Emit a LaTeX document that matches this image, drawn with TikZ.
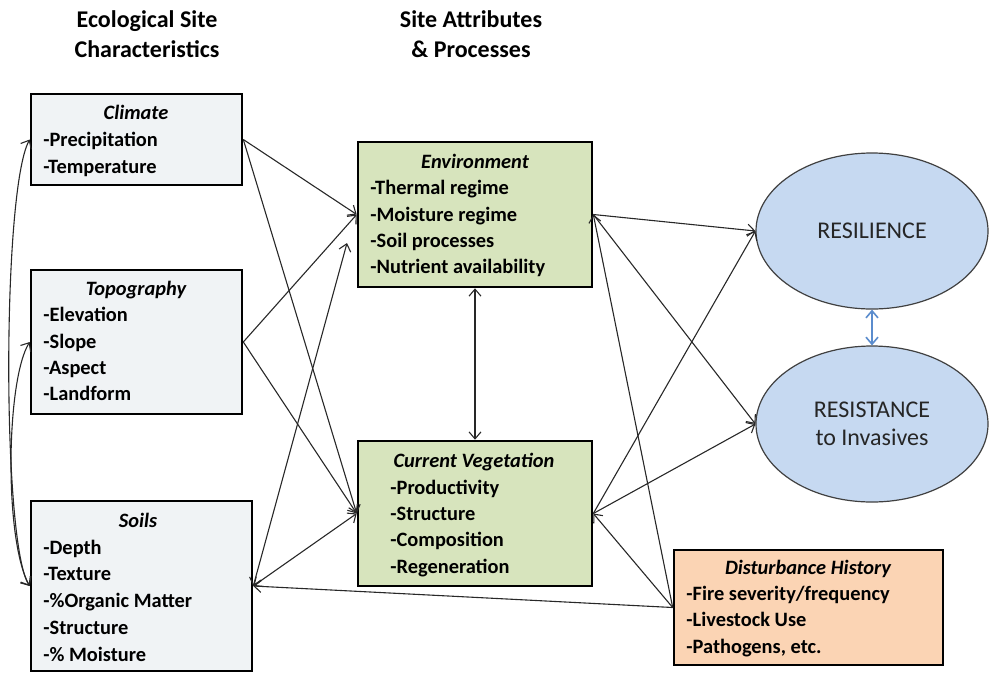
\documentclass[tikz,border=0pt]{standalone}
\usepackage{fontspec}
\setmainfont{Carlito}
\usetikzlibrary{arrows.meta,fit,shapes.geometric}
\definecolor{greybox}{RGB}{240,243,245}
\definecolor{greenbox}{RGB}{215,228,189}
\definecolor{orangebox}{RGB}{251,212,180}
\definecolor{bluefill}{RGB}{198,217,241}
\definecolor{bluearrow}{RGB}{91,140,205}
\definecolor{linegray}{RGB}{40,40,40}
\begin{document}
\begin{tikzpicture}[x=0.5pt,y=-0.5pt,
  box/.style={draw=black, line width=1.3pt, inner sep=0pt},
  item/.style={anchor=base west, inner sep=0pt, font=\fontsize{10.2}{12}\selectfont\bfseries},
  ttl/.style={anchor=base, inner sep=0pt, font=\fontsize{10.2}{12}\selectfont\bfseries\itshape},
  hdr/.style={align=center, inner sep=0pt, font=\fontsize{12}{15}\selectfont\bfseries},
  oval/.style={ellipse, draw=black!75, line width=0.6pt, fill=bluefill, inner sep=0pt,
    minimum width=116pt, minimum height=78pt, align=center,
    font=\fontsize{12}{14}\selectfont, text=black!85},
  conn/.style={draw=linegray, line width=0.55pt},
  tip/.style={-{Straight Barb[length=3.5pt,width=6pt]}},
  bitip/.style={{Straight Barb[length=3.5pt,width=6pt]}-{Straight Barb[length=3.5pt,width=6pt]}}
]
\useasboundingbox (0,0) rectangle (994,675);

% headers
\node[hdr] (h1) at (147,34) {Ecological Site\\Characteristics};
\node[hdr] (h2) at (471,34) {Site Attributes\\\& Processes};

% left boxes
\node[box, fill=greybox, fit={(31,94) (242,185)}] (clim) {};
\node[ttl] (climT) at (136,119) {Climate};
\node[item] (clim1) at (43,146) {-Precipitation};
\node[item] (clim2) at (43,173) {-Temperature};

\node[box, fill=greybox, fit={(31,270) (242,414)}] (topo) {};
\node[ttl] (topoT) at (136,295) {Topography};
\node[item] (topo1) at (43,321) {-Elevation};
\node[item] (topo2) at (43,348) {-Slope};
\node[item] (topo3) at (43,374) {-Aspect};
\node[item] (topo4) at (43,400) {-Landform};

\node[box, fill=greybox, fit={(31,501) (252,671)}] (soil) {};
\node[ttl] (soilT) at (138,527) {Soils};
\node[item] (soil1) at (43,554) {-Depth};
\node[item] (soil2) at (43,580) {-Texture};
\node[item] (soil3) at (43,607) {-\%Organic Matter};
\node[item] (soil4) at (43,634) {-Structure};
\node[item] (soil5) at (43,661) {-\% Moisture};

% centre boxes
\node[box, fill=greenbox, fit={(358,142) (592,287)}] (env) {};
\node[ttl] (envT) at (475,168) {Environment};
\node[item] (env1) at (370,194) {-Thermal regime};
\node[item] (env2) at (370,221) {-Moisture regime};
\node[item] (env3) at (370,247) {-Soil processes};
\node[item] (env4) at (370,273) {-Nutrient availability};

\node[box, fill=greenbox, fit={(358,441) (592,586)}] (veg) {};
\node[ttl] (vegT) at (474,467) {Current Vegetation};
\node[item] (veg1) at (390,494) {-Productivity};
\node[item] (veg2) at (390,520) {-Structure};
\node[item] (veg3) at (390,546) {-Composition};
\node[item] (veg4) at (390,573) {-Regeneration};

% disturbance
\node[box, fill=orangebox, fit={(674,550) (943,665)}] (dist) {};
\node[ttl] (distT) at (808,574) {Disturbance History};
\node[item] (dist1) at (686,600) {-Fire severity/frequency};
\node[item] (dist2) at (686,626) {-Livestock Use};
\node[item] (dist3) at (686,653) {-Pathogens, etc.};

% ellipses
\node[oval] (res) at (872,231) {RESILIENCE};
\node[oval] (rst) at (872,424) {RESISTANCE\\to Invasives};

\coordinate (envin) at (347,243);

% connectors
\draw[conn,tip] (clim.east) -- (env.west);
\draw[conn,tip] (clim.east) -- (veg.west);
\draw[conn,tip] (topo.east) -- (env.west);
\draw[conn,tip] (topo.east) -- (veg.west);
\draw[conn,bitip] (soil.east) -- (envin);
\draw[conn,bitip] (soil.east) -- (veg.west);
\draw[conn,bitip] (env.south) -- (veg.north);
\draw[conn,tip] (env.east) -- (res.west);
\draw[conn,tip] (env.east) -- (rst.west);
\draw[conn,tip] (veg.east) -- (res.west);
\draw[conn,tip] (veg.east) -- (rst.west);
\draw[conn,tip] (dist.west) -- (env.east);
\draw[conn,tip] (dist.west) -- (veg.east);
\draw[conn,tip] (dist.west) -- (soil.east);
\draw[conn,bitip] (soil.west) .. controls (2,545) and (2,190) .. (clim.west);
\draw[conn,bitip] (soil.west) .. controls (4,540) and (6,380) .. (topo.west);
\draw[bluearrow, line width=0.8pt, bitip] (res.south) -- (rst.north);
\end{tikzpicture}
\end{document}
